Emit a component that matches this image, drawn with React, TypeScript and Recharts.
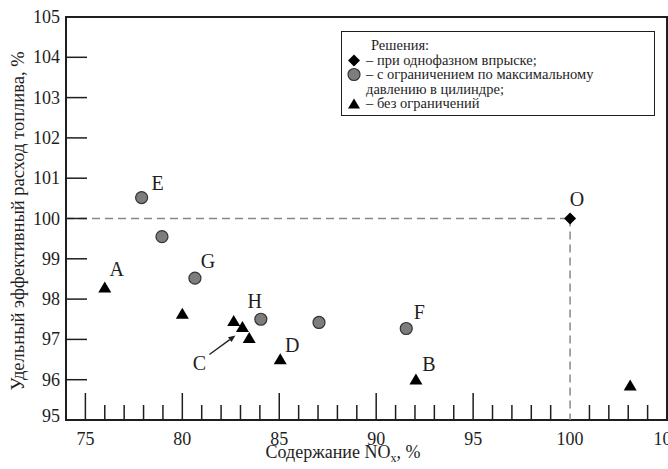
import React from "react";
import {
  Legend,
  ReferenceArea,
  ReferenceLine,
  Scatter,
  ScatterChart,
  XAxis,
  YAxis,
} from "recharts";

// NOx content, % (x) vs specific effective fuel consumption, % (y)
const triangleNox = [76.0, 80.0, 82.65, 83.1, 83.45, 85.05, 92.05, 103.1];
const triangleFuel = [98.3, 97.65, 97.47, 97.32, 97.05, 96.52, 96.02, 95.87];
const triangleLabels = ["A", "", "", "C", "", "D", "B", ""];

const circleNox = [77.9, 78.95, 80.65, 84.05, 87.05, 91.55];
const circleFuel = [100.52, 99.55, 98.52, 97.5, 97.42, 97.27];
const circleLabels = ["E", "", "G", "H", "", "F"];

const diamondNox = [100];
const diamondFuel = [100];
const diamondLabels = ["O"];

const noxTicks = [75, 76, 77, 78, 79, 80, 81, 82, 83, 84, 85, 86, 87, 88, 89, 90, 91, 92, 93, 94, 95, 96, 97, 98, 99, 100, 101, 102, 103, 104, 105];
const fuelTicks = [95, 96, 97, 98, 99, 100, 101, 102, 103, 104, 105];

const legendTitle = "Решения:";
const legendNames = [
  "при однофазном впрыске;",
  "с ограничением по максимальному давлению в цилиндре;",
  "без ограничений",
];

// letter placement relative to its marker, px
const labelOffsets: Record<string, [number, number]> = {
  A: [12, -18],
  E: [16, -15],
  G: [13, -17],
  H: [-6, -18],
  D: [12, -14],
  C: [-43, 36],
  B: [13, -15],
  F: [13, -17],
  O: [7, -20],
};
const arrowC = { from: [-33, 28], to: [-7, 9] };

const INK = "#1e1e1e";
const SERIF = "Liberation Serif, Times New Roman, serif";

const zip = (xs: number[], ys: number[], ls: string[]) =>
  xs.map((x, i) => ({ x, y: ys[i], label: ls[i] }));

function Letter({ cx, cy, label }: { cx: number; cy: number; label: string }) {
  if (!label) return null;
  const [dx, dy] = labelOffsets[label];
  let arrow = null;
  if (label === "C") {
    const x1 = cx + arrowC.from[0];
    const y1 = cy + arrowC.from[1];
    const x2 = cx + arrowC.to[0];
    const y2 = cy + arrowC.to[1];
    const len = Math.hypot(x2 - x1, y2 - y1);
    const ux = (x2 - x1) / len;
    const uy = (y2 - y1) / len;
    const bx = x2 - ux * 7;
    const by = y2 - uy * 7;
    arrow = (
      <g>
        <line x1={x1} y1={y1} x2={bx} y2={by} stroke={INK} strokeWidth={1.3} />
        <polygon
          points={`${x2},${y2} ${bx - uy * 3},${by + ux * 3} ${bx + uy * 3},${by - ux * 3}`}
          fill={INK}
        />
      </g>
    );
  }
  return (
    <g>
      {arrow}
      <text
        x={cx + dx}
        y={cy + dy}
        textAnchor="middle"
        dominantBaseline="central"
        fontSize={20}
        fontFamily={SERIF}
        fill={INK}
      >
        {label}
      </text>
    </g>
  );
}

function Triangle(p: any) {
  const { cx, cy } = p;
  return (
    <g>
      <polygon
        points={`${cx},${cy - 5.5} ${cx + 6.5},${cy + 5.5} ${cx - 6.5},${cy + 5.5}`}
        fill="#000"
      />
      <Letter cx={cx} cy={cy} label={p.payload.label} />
    </g>
  );
}

function Circle(p: any) {
  const { cx, cy } = p;
  return (
    <g>
      <circle cx={cx} cy={cy} r={6} fill="#7d7d7d" stroke="#333" strokeWidth={1.2} />
      <Letter cx={cx} cy={cy} label={p.payload.label} />
    </g>
  );
}

function Diamond(p: any) {
  const { cx, cy } = p;
  return (
    <g>
      <polygon points={`${cx},${cy - 6} ${cx + 6},${cy} ${cx},${cy + 6} ${cx - 6},${cy}`} fill="#000" />
      <Letter cx={cx} cy={cy} label={p.payload.label} />
    </g>
  );
}

function NoxTick({ x, y, payload }: any) {
  const v = payload.value;
  const major = v % 5 === 0;
  // 100 is covered by the dashed guide, 105 is the frame
  const showLine = v !== 100 && v < 105;
  return (
    <g>
      {showLine && (
        <line x1={x} x2={x} y1={y} y2={y - (major ? 27 : 15)} stroke={INK} strokeWidth={1.5} />
      )}
      {major && (
        <text x={x} y={y + 25} textAnchor="middle" fontSize={18} fontFamily={SERIF} fill={INK}>
          {v}
        </text>
      )}
    </g>
  );
}

function FuelTick({ x, y, payload }: any) {
  const v = payload.value;
  return (
    <g>
      {v > 95 && v < 105 && (
        <line x1={x} x2={x + 21} y1={y} y2={y} stroke={INK} strokeWidth={1.5} />
      )}
      <text
        x={x - 6}
        y={y + (v === 95 ? 2 : 6)}
        textAnchor="end"
        fontSize={18}
        fontFamily={SERIF}
        fill={INK}
      >
        {v}
      </text>
    </g>
  );
}

function LegendMarker({ i }: { i: number }) {
  return (
    <svg width={19} height={14.5} style={{ flex: "none" }}>
      {i === 0 && <polygon points="7,1.5 13,7.5 7,13.5 1,7.5" fill="#000" />}
      {i === 1 && <circle cx={7} cy={7.5} r={6} fill="#7d7d7d" stroke="#333" strokeWidth={1.2} />}
      {i === 2 && <polygon points="7,2.5 13,12.5 1,12.5" fill="#000" />}
    </svg>
  );
}

function LegendBox() {
  return (
    <div
      style={{
        border: `1.5px solid ${INK}`,
        background: "#fff",
        boxSizing: "border-box",
        width: 314,
        padding: "6px 6px 4px 5px",
        fontFamily: SERIF,
        fontSize: 14.5,
        lineHeight: "14.5px",
        color: INK,
        textAlign: "left",
      }}
    >
      <div style={{ paddingLeft: 24 }}>{legendTitle}</div>
      {legendNames.map((name, i) => (
        <div key={name} style={{ display: "flex", alignItems: "flex-start" }}>
          <LegendMarker i={i} />
          <span>– {name}</span>
        </div>
      ))}
    </div>
  );
}

export default function App() {
  return (
    <div style={{ position: "absolute", left: 0, top: 0, background: "#fff" }}>
      <ScatterChart width={668} height={469} margin={{ top: 17, right: 1, bottom: 0, left: 0 }}>
        <XAxis
          type="number"
          dataKey="x"
          domain={[74, 105]}
          ticks={noxTicks}
          interval={0}
          tickSize={0}
          tickMargin={0}
          axisLine={false}
          tickLine={false}
          tick={<NoxTick />}
          height={49}
          label={() => (
            <text x={343} y={458} textAnchor="middle" fontSize={18} fontFamily={SERIF} fill={INK}>
              Содержание NO
              <tspan fontSize={12} dy={4}>x</tspan>
              <tspan dy={-4}>, %</tspan>
            </text>
          )}
        />
        <YAxis
          type="number"
          dataKey="y"
          domain={[95, 105]}
          ticks={fuelTicks}
          interval={0}
          tickSize={0}
          tickMargin={0}
          axisLine={false}
          tickLine={false}
          tick={<FuelTick />}
          width={66}
          label={() => (
            <text
              x={18}
              y={221}
              transform="rotate(-90 18 221)"
              textAnchor="middle"
              dominantBaseline="central"
              fontSize={18.5}
              fontFamily={SERIF}
              fill={INK}
            >
              Удельный эффективный расход топлива, %
            </text>
          )}
        />
        <ReferenceArea x1={74} x2={105} y1={95} y2={105} fill="none" stroke={INK} strokeWidth={2} />
        <ReferenceLine
          segment={[{ x: 74, y: 100 }, { x: 100, y: 100 }]}
          stroke="#888"
          strokeWidth={1.5}
          strokeDasharray="8 5"
        />
        <ReferenceLine
          segment={[{ x: 100, y: 100 }, { x: 100, y: 95 }]}
          stroke="#888"
          strokeWidth={1.5}
          strokeDasharray="8 5"
        />
        <Legend
          layout="vertical"
          align="center"
          verticalAlign="middle"
          content={() => <LegendBox />}
          wrapperStyle={{ left: 341, top: 31, width: 314, height: "auto", margin: 0, padding: 0 }}
        />
        <Scatter
          name="diamond"
          data={zip(diamondNox, diamondFuel, diamondLabels)}
          shape={Diamond}
          isAnimationActive={false}
        />
        <Scatter
          name="circle"
          data={zip(circleNox, circleFuel, circleLabels)}
          shape={Circle}
          isAnimationActive={false}
        />
        <Scatter
          name="triangle"
          data={zip(triangleNox, triangleFuel, triangleLabels)}
          shape={Triangle}
          isAnimationActive={false}
        />
      </ScatterChart>
    </div>
  );
}
